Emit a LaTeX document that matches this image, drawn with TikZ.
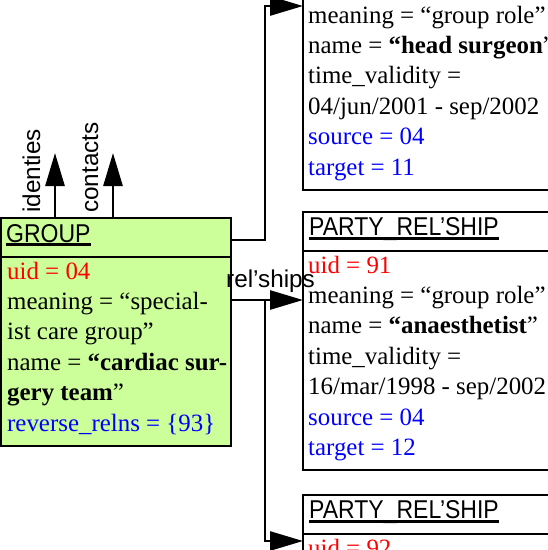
\documentclass[tikz,border=0pt]{standalone}
\usepackage{graphicx}
\usepackage{fontspec}
\setmainfont{Liberation Serif}
\setsansfont{Liberation Sans}
\usepackage{tikz}
\usetikzlibrary{arrows.meta}
\definecolor{grpgreen}{HTML}{CCFF99}
\newcommand{\bodyfont}{\fontsize{24.9}{30.4}\selectfont}
\newcommand{\headfont}{\sffamily\fontsize{23}{28}\selectfont}
\newcommand{\lblfont}{\sffamily\fontsize{24.3}{28}\selectfont}
\newcommand{\hd}[1]{\scalebox{1}[1.12]{#1}}

\begin{document}
\begin{tikzpicture}[x=1pt,y=-1pt,
    box/.style={draw,line width=2pt,rectangle,inner sep=0pt,outer sep=0pt,anchor=north west},
    head/.style={font=\headfont,inner sep=0pt,anchor=base west},
    body/.style={font=\bodyfont,inner sep=0pt,anchor=north west,align=left},
    lbl/.style={font=\lblfont,inner sep=0pt,anchor=base west},
    link/.style={line width=2.7pt,-{Triangle[length=33pt,width=19pt]}},
    sepline/.style={line width=1.2pt},
    uline/.style={line width=2.8pt}]
  \useasboundingbox (0,0) rectangle (548,550);
  \clip (0,0) rectangle (548,550);

  % the group object
  \node[box,fill=grpgreen,minimum width=230pt,minimum height=228pt] (grp) at (1,218) {};
  \draw[sepline] ([yshift=-39pt]grp.north west) -- ([yshift=-39pt]grp.north east);
  \node[head] (grph) at (6,242) {\hd{GROUP}};
  \draw[uline] ([yshift=-2.5pt]grph.base west) -- ([yshift=-2.5pt]grph.base east);
  \node[body] (grpb) at (7,257.7) {\strut{\color{red}uid = 04}\\
    \strut meaning = “special-\\
    \strut ist care group”\\
    \strut name = \textbf{“cardiac sur-}\\
    \strut\textbf{gery team}”\\
    \strut{\color{blue}reverse\_relns = \{93\}}};

  % party relationships
  \node[box,anchor=south west,minimum width=300pt,minimum height=260pt] (pr1) at (303,190) {};
  \node[body] (pr1b) at (308,1.7) {\strut meaning = “group role”\\
    \strut name = \textbf{“head surgeon}”\\
    \strut time\_validity =\\
    \strut 04/jun/2001 - sep/2002\\
    \strut{\color{blue}source = 04}\\
    \strut{\color{blue}target = 11}};

  \node[box,minimum width=300pt,minimum height=258pt] (pr2) at (303,212) {};
  \draw[sepline] ([yshift=-39pt]pr2.north west) -- ([yshift=-39pt]pr2.north east);
  \node[head] (pr2h) at (309,235) {\hd{PARTY\_REL’SHIP}};
  \draw[uline] ([yshift=-3.5pt]pr2h.base west) -- ([yshift=-3.5pt]pr2h.base east);
  \node[body] (pr2b) at (308,251.7) {\strut{\color{red}uid = 91}\\
    \strut meaning = “group role”\\
    \strut name = \textbf{“anaesthetist}”\\
    \strut time\_validity =\\
    \strut 16/mar/1998 - sep/2002\\
    \strut{\color{blue}source = 04}\\
    \strut{\color{blue}target = 12}};

  \node[box,minimum width=300pt,minimum height=200pt] (pr3) at (303,495) {};
  \draw[sepline] ([yshift=-39pt]pr3.north west) -- ([yshift=-39pt]pr3.north east);
  \node[head] (pr3h) at (309,518) {\hd{PARTY\_REL’SHIP}};
  \draw[uline] ([yshift=-3.5pt]pr3h.base west) -- ([yshift=-3.5pt]pr3h.base east);
  \node[body] (pr3b) at (308,534.7) {\strut{\color{red}uid = 92}};

  % connectors
  \coordinate (up) at (265,6);
  \coordinate (fork) at (265,300);
  \coordinate (down) at (265,541);
  \draw[link] ([xshift=54pt]grp.north west) -- ++(0,-65);
  \draw[link] ([xshift=112pt]grp.north west) -- ++(0,-65);
  \draw[link] ([yshift=-22pt]grp.north east) -| (up) -- (pr1.west |- up);
  \draw[link] (grp.east |- fork) -- (pr2.west |- fork);
  \draw[link] (fork) |- (pr3.west |- down);

  \node[lbl,rotate=90] (idl) at (40,213) {identies};
  \node[lbl,rotate=90] (cnl) at (98,213) {contacts};
  \node[lbl] (rll) at (226,287) {rel’ships};
\end{tikzpicture}
\end{document}
